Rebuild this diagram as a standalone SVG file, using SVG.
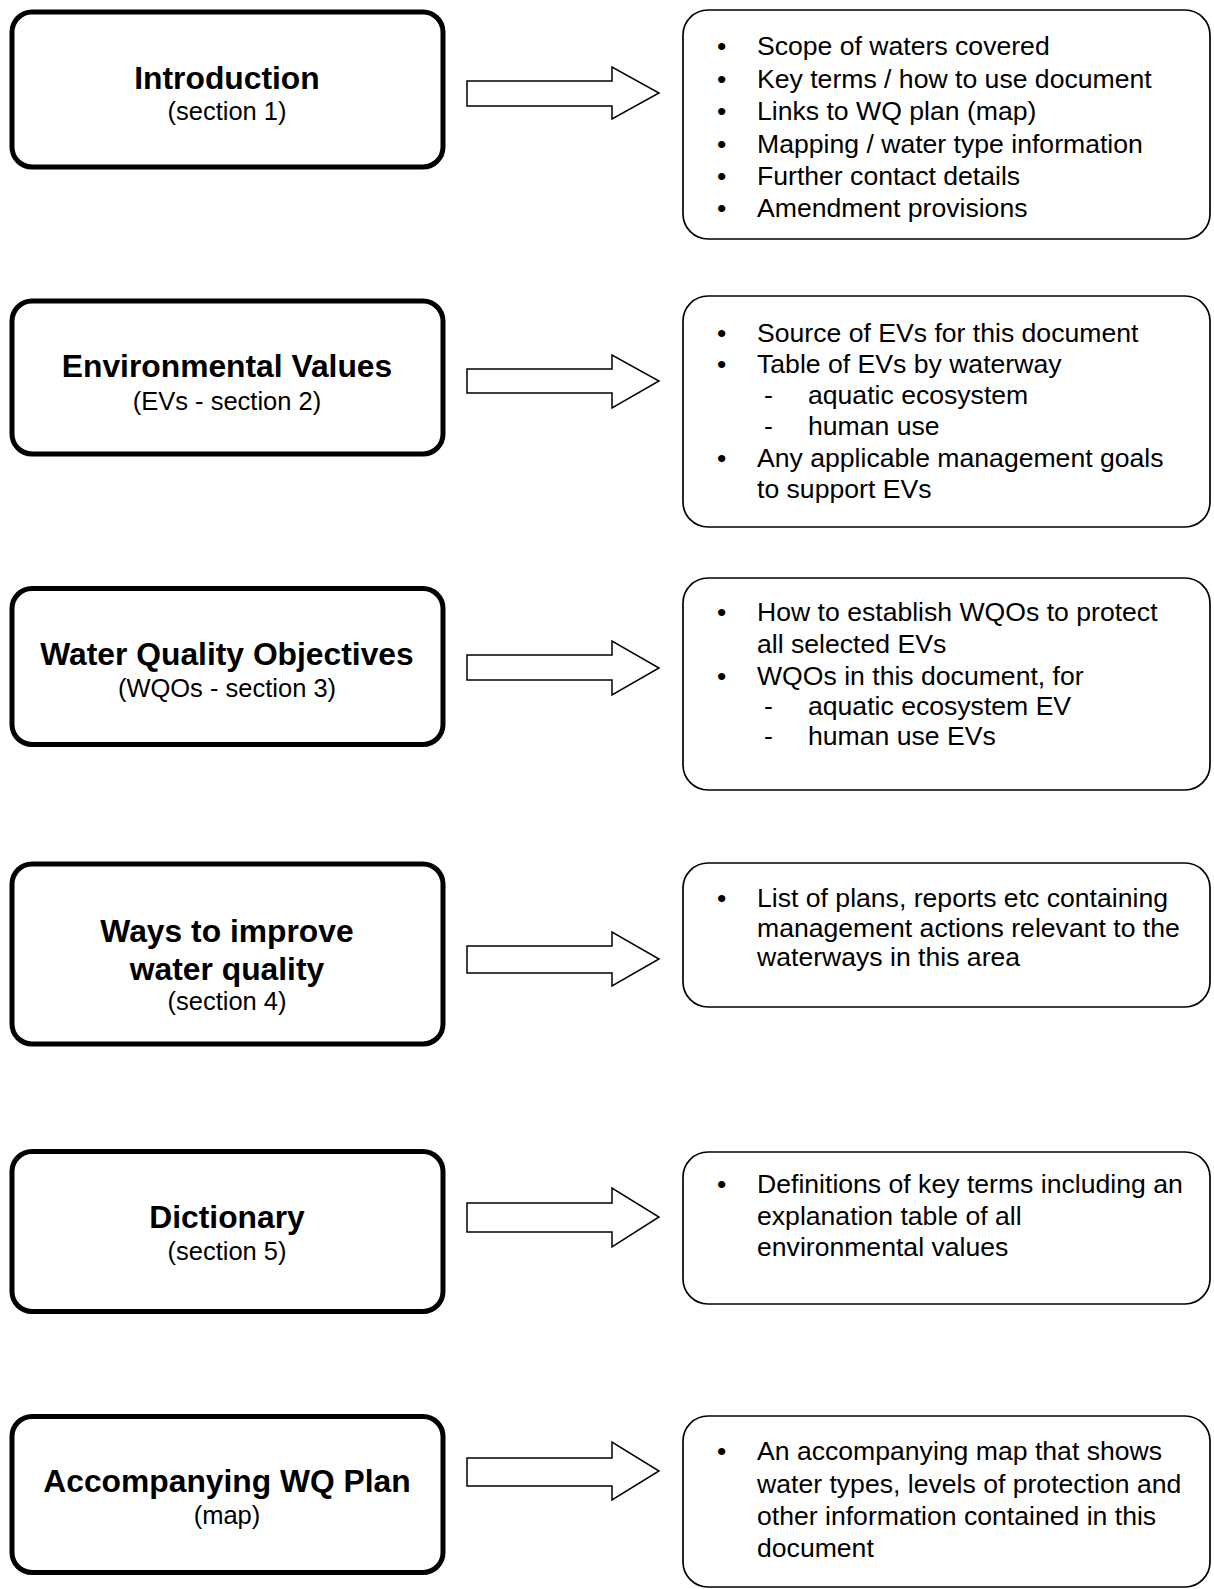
<svg xmlns="http://www.w3.org/2000/svg" width="1214" height="1589" viewBox="0 0 1214 1589">
<style>
.lbox{fill:#fff;stroke:#000;stroke-width:5}
.rbox{fill:#fff;stroke:#000;stroke-width:1.7}
.arr{fill:#fff;stroke:#000;stroke-width:1.5;stroke-linejoin:miter}
.t{font-family:"Liberation Sans",Arial,sans-serif;font-weight:bold;font-size:31.8px;text-anchor:middle;fill:#000}
.s{font-family:"Liberation Sans",Arial,sans-serif;font-size:25.5px;text-anchor:middle;fill:#000}
.b{font-family:"Liberation Sans",Arial,sans-serif;font-size:26.6px;fill:#000}
</style>
<rect width="1214" height="1589" fill="#fff"/>
<g id="connectors">
<polygon class="arr" points="467,81 612,81 612,67 659,93 612,119 612,106 467,106"/>
<polygon class="arr" points="467,369 612,369 612,355 659,381 612,408 612,393 467,393"/>
<polygon class="arr" points="467,655 612,655 612,641 659,668 612,695 612,680 467,680"/>
<polygon class="arr" points="467,946 612,946 612,932 659,959 612,986 612,973 467,973"/>
<polygon class="arr" points="467,1203 612,1203 612,1188 659,1217 612,1247 612,1232 467,1232"/>
<polygon class="arr" points="467,1458 612,1458 612,1442 659,1471 612,1500 612,1486 467,1486"/>
</g>
<g id="n1">
<rect class="lbox" x="12" y="12" width="431" height="155" rx="20"/>
<text class="t" x="227" y="89">Introduction</text>
<text class="s" x="227" y="120">(section 1)</text>
</g>
<g id="n2">
<rect class="lbox" x="12" y="301" width="431" height="153" rx="20"/>
<text class="t" x="227" y="377">Environmental Values</text>
<text class="s" x="227" y="410">(EVs - section 2)</text>
</g>
<g id="n3">
<rect class="lbox" x="12" y="588.5" width="431" height="156" rx="20"/>
<text class="t" x="227" y="665">Water Quality Objectives</text>
<text class="s" x="227" y="697">(WQOs - section 3)</text>
</g>
<g id="n4">
<rect class="lbox" x="12" y="864" width="431" height="180" rx="20"/>
<text class="t" x="227" y="942">Ways to improve</text>
<text class="t" x="227" y="980">water quality</text>
<text class="s" x="227" y="1010">(section 4)</text>
</g>
<g id="n5">
<rect class="lbox" x="12" y="1151.5" width="431" height="160" rx="20"/>
<text class="t" x="227" y="1228">Dictionary</text>
<text class="s" x="227" y="1260">(section 5)</text>
</g>
<g id="n6">
<rect class="lbox" x="12" y="1416.5" width="431" height="156" rx="20"/>
<text class="t" x="227" y="1492">Accompanying WQ Plan</text>
<text class="s" x="227" y="1524">(map)</text>
</g>
<g id="r1">
<rect class="rbox" x="683" y="10" width="527" height="229" rx="25"/>
<text class="b" x="717" y="55">•</text><text class="b" x="757" y="55">Scope of waters covered</text>
<text class="b" x="717" y="87.5">•</text><text class="b" x="757" y="87.5">Key terms / how to use document</text>
<text class="b" x="717" y="120">•</text><text class="b" x="757" y="120">Links to WQ plan (map)</text>
<text class="b" x="717" y="153">•</text><text class="b" x="757" y="153">Mapping / water type information</text>
<text class="b" x="717" y="185">•</text><text class="b" x="757" y="185">Further contact details</text>
<text class="b" x="717" y="217">•</text><text class="b" x="757" y="217">Amendment provisions</text>
</g>
<g id="r2">
<rect class="rbox" x="683" y="296" width="527" height="231" rx="25"/>
<text class="b" x="717" y="342">•</text><text class="b" x="757" y="342">Source of EVs for this document</text>
<text class="b" x="717" y="373">•</text><text class="b" x="757" y="373">Table of EVs by waterway</text>
<text class="b" x="764" y="404">-</text><text class="b" x="808" y="404">aquatic ecosystem</text>
<text class="b" x="764" y="435">-</text><text class="b" x="808" y="435">human use</text>
<text class="b" x="717" y="467">•</text><text class="b" x="757" y="467">Any applicable management goals</text>
<text class="b" x="757" y="498">to support EVs</text>
</g>
<g id="r3">
<rect class="rbox" x="683" y="578" width="527" height="212" rx="25"/>
<text class="b" x="717" y="621">•</text><text class="b" x="757" y="621">How to establish WQOs to protect</text>
<text class="b" x="757" y="653">all selected EVs</text>
<text class="b" x="717" y="685">•</text><text class="b" x="757" y="685">WQOs in this document, for</text>
<text class="b" x="764" y="715">-</text><text class="b" x="808" y="715">aquatic ecosystem EV</text>
<text class="b" x="764" y="745">-</text><text class="b" x="808" y="745">human use EVs</text>
</g>
<g id="r4">
<rect class="rbox" x="683" y="863" width="527" height="144" rx="25"/>
<text class="b" x="717" y="907">•</text><text class="b" x="757" y="907">List of plans, reports etc containing</text>
<text class="b" x="757" y="937">management actions relevant to the</text>
<text class="b" x="757" y="966">waterways in this area</text>
</g>
<g id="r5">
<rect class="rbox" x="683" y="1152" width="527" height="152" rx="25"/>
<text class="b" x="717" y="1193">•</text><text class="b" x="757" y="1193">Definitions of key terms including an</text>
<text class="b" x="757" y="1225">explanation table of all</text>
<text class="b" x="757" y="1256">environmental values</text>
</g>
<g id="r6">
<rect class="rbox" x="683" y="1416" width="527" height="171" rx="25"/>
<text class="b" x="717" y="1460">•</text><text class="b" x="757" y="1460">An accompanying map that shows</text>
<text class="b" x="757" y="1493">water types, levels of protection and</text>
<text class="b" x="757" y="1525">other information contained in this</text>
<text class="b" x="757" y="1557">document</text>
</g>
</svg>
